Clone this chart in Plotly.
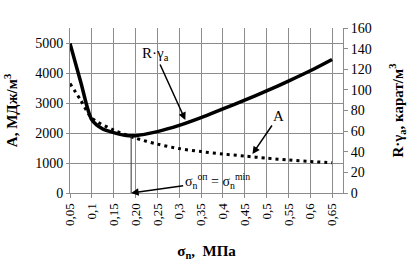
import plotly.graph_objects as go

# Data
sigma_R = [0.05, 0.075, 0.1, 0.125, 0.15, 0.175, 0.2, 0.25, 0.3, 0.35, 0.4, 0.45, 0.5, 0.55, 0.6, 0.65]
R_gamma = [145, 107, 71, 62, 58.5, 56, 55.6, 59.5, 65.5, 73, 81.5, 90, 99, 108.5, 118.5, 129.5]

sigma_A = [0.05, 0.075, 0.1, 0.15, 0.2, 0.25, 0.3, 0.35, 0.4, 0.45, 0.5, 0.55, 0.6, 0.65]
A_vals = [3650, 3080, 2500, 2100, 1830, 1630, 1480, 1380, 1300, 1230, 1160, 1100, 1050, 1010]

x_tickvals = [0.05, 0.1, 0.15, 0.2, 0.25, 0.3, 0.35, 0.4, 0.45, 0.5, 0.55, 0.6, 0.65]
x_ticktext = ["0,05", "0,1", "0,15", "0,20", "0,25", "0,3", "0,35", "0,4", "0,45", "0,5", "0,55", "0,6", "0,65"]
y_left_ticks = [0, 1000, 2000, 3000, 4000, 5000]
y_right_ticks = [0, 20, 40, 60, 80, 100, 120, 140, 160]

sigma_opt = 0.19
R_min = 55.5

FONT = "Liberation Serif"
GRID = "#8c8c8c"

fig = go.Figure()
fig.add_trace(go.Scatter(
    x=sigma_A, y=A_vals, mode="lines", name="A",
    line=dict(color="black", width=3, dash="3px,4px", shape="spline", smoothing=0.8),
    yaxis="y"))
fig.add_trace(go.Scatter(
    x=sigma_R, y=R_gamma, mode="lines", name="R·γa",
    line=dict(color="black", width=3.5, shape="spline", smoothing=0.8),
    yaxis="y2"))

fig.add_shape(type="line", xref="x", yref="y2",
              x0=sigma_opt, x1=sigma_opt, y0=0, y1=R_min,
              line=dict(color="#333333", width=1))

ann_font = dict(family=FONT, size=15, color="black")
fig.add_annotation(x=0.314, y=70.8, xref="x", yref="y2",
                   text="R·γ<sub>a</sub>", showarrow=True,
                   ax=-30, ay=-66, arrowhead=2, arrowsize=1, arrowwidth=1.5,
                   arrowcolor="black", font=ann_font, standoff=0)
fig.add_annotation(x=0.4677, y=1300, xref="x", yref="y",
                   text="A", showarrow=True,
                   ax=26, ay=-38, arrowhead=2, arrowsize=1, arrowwidth=1.5,
                   arrowcolor="black", font=ann_font, standoff=0)
fig.add_annotation(x=sigma_opt, y=0, xref="x", yref="y",
                   text="σ<sub>n</sub><sup>оп</sup> = σ<sub>n</sub><sup>min</sup>",
                   showarrow=True, ax=86, ay=-12, arrowhead=2, arrowsize=1,
                   arrowwidth=1.5, arrowcolor="black",
                   font=dict(family=FONT, size=14, color="black"), standoff=0)

fig.update_layout(
    width=408, height=261,
    margin=dict(l=70, r=65, t=28, b=68, autoexpand=False),
    paper_bgcolor="white", plot_bgcolor="white",
    showlegend=False,
    font=dict(family=FONT, color="black"),
    xaxis=dict(
        range=[0.05, 0.675], tickvals=x_tickvals, ticktext=x_ticktext,
        tickangle=-90, tickfont=dict(size=13, family=FONT),
        showgrid=True, gridcolor=GRID, gridwidth=1,
        showline=True, linecolor=GRID, linewidth=1,
        ticks="outside", ticklen=4, tickcolor=GRID,
        zeroline=False, automargin=True,
        title=dict(text="<b>σ<sub>n</sub>,  МПа</b>", font=dict(size=15, family=FONT), standoff=25),
    ),
    yaxis=dict(
        range=[0, 5500], tickvals=y_left_ticks,
        tickfont=dict(size=14, family=FONT),
        showgrid=True, gridcolor=GRID, gridwidth=1,
        showline=True, linecolor=GRID, linewidth=1,
        ticks="outside", ticklen=3, tickcolor=GRID,
        zeroline=False, automargin=True,
        title=dict(text="<b>A, МДж/м<sup>3</sup></b>", font=dict(size=15, family=FONT), standoff=13),
    ),
    yaxis2=dict(
        range=[0, 160], tickvals=y_right_ticks, overlaying="y", side="right",
        tickfont=dict(size=14, family=FONT),
        showgrid=False,
        showline=True, linecolor=GRID, linewidth=1,
        ticks="outside", ticklen=4, tickcolor=GRID,
        zeroline=False, automargin=True,
        title=dict(text="<b>R·γ<sub>a</sub>, карат/м<sup>3</sup></b>", font=dict(size=15, family=FONT), standoff=21),
    ),
)

fig.write_html("out.html", config={"displayModeBar": False},
               post_script="document.body.style.margin='0';document.body.style.padding='0';")
